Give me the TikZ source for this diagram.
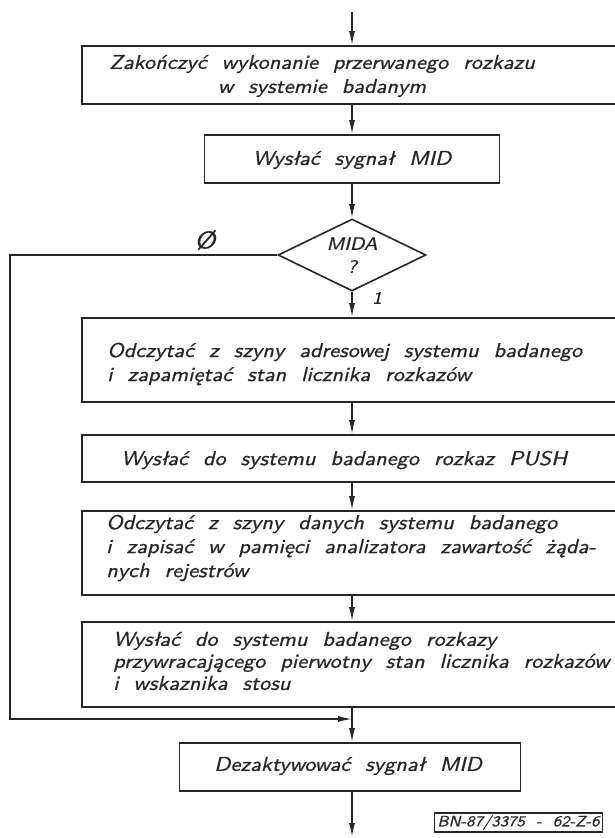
\documentclass[tikz,border=0pt]{standalone}
\usepackage{fontspec}
\usepackage{tikz}
\usetikzlibrary{arrows.meta, shapes.geometric}
% technical lettering: stretched oblique sans with wide word gaps
\newfontfamily\pismo{lmsans10-oblique.otf}[FakeStretch=1.12, WordSpace=2, FakeBold=0.8]
\definecolor{tusz}{gray}{0.15}

\tikzset{
  blok/.style={draw=tusz, line width=1.7pt, rectangle, inner sep=0pt},
  pytanie/.style={draw=tusz, line width=1.6pt, diamond, aspect=2, inner sep=0pt,
    minimum width=148pt, minimum height=72pt, align=center, text=tusz,
    font=\pismo\fontsize{18}{23}\selectfont},
  napis/.style={inner sep=0pt, text=tusz, font=\pismo\fontsize{20}{24}\selectfont},
  strzalka/.style={draw=tusz, line width=1.5pt, -{Latex[length=14pt,width=6pt]}}
}

\begin{document}
\begin{tikzpicture}[x=1pt, y=-1pt]
	\useasboundingbox (0,0) rectangle (615,838);
	\clip (0,0) rectangle (615,838);
	\fill[white] (0,0) rectangle (615,838);

	% boxes of the flow
	\node[blok, minimum width=540pt, minimum height=58pt] (b1) at (352,75) {};
	\node[blok, minimum width=295pt, minimum height=48pt] (b2) at (352,159) {};
	\node[pytanie] (dec) at (352,255) {MIDA\\?};
	\node[blok, minimum width=540pt, minimum height=84pt] (b3) at (352,360) {};
	\node[blok, minimum width=540pt, minimum height=47pt] (b4) at (352,458.5) {};
	\node[blok, minimum width=540pt, minimum height=84pt] (b5) at (352,553) {};
	\node[blok, minimum width=540pt, minimum height=85pt] (b6) at (352,664.5) {};
	\node[blok, minimum width=341pt, minimum height=48pt] (b7) at (350,767) {};

	% texts
	\node[napis, align=center] (t1) at (322,76) {Zakończyć wykonanie przerwanego rozkazu\\w systemie badanym};
	\node[napis] (t2) at (352,160) {Wysłać sygnał MID};
	\node[napis, align=left, right] (t3) at (107,364) {Odczytać z szyny adresowej systemu badanego\\i zapamiętać stan licznika rozkazów};
	\node[napis, right] (t4) at (121,460) {Wysłać do systemu badanego rozkaz PUSH};
	\node[napis, align=left, right] (t5) at (106,548) {Odczytać z szyny danych systemu badanego\\i zapisać w pamięci analizatora zawartość żąda-\\nych rejestrów};
	\node[napis, align=left, right, font=\pismo\fontsize{20}{22}\selectfont] (t6) at (113,661) {Wysłać do systemu badanego rozkazy\\przywracającego pierwotny stan licznika rozkazów\\i wskaznika stosu};
	\node[napis] (t7) at (348,766) {Dezaktywować sygnał MID};

	% branch labels
	\node[napis, font=\pismo\fontsize{24}{24}\selectfont] (zero) at (205,240) {Ø};
	\node[napis, font=\pismo\fontsize{17}{17}\selectfont] (jeden) at (377,298) {1};

	% drawing number
	\node[draw=tusz, line width=1.1pt, inner xsep=3pt, inner ysep=2pt, text=tusz,
	  font=\pismo\fontsize{15}{15}\selectfont] (nr) at (518.5,822.5) {BN-87/3375 - 62-Z-6};

	% connectors
	\coordinate (wej) at (352,12);
	\coordinate (lp) at (10,719);
	\coordinate (zbieg) at (352,719);
	\coordinate (wyj) at (352,837);
	\draw[strzalka] (wej) -- (b1.north);
	\draw[strzalka] (b1.south) -- (b2.north);
	\draw[strzalka] (b2.south) -- (dec.north);
	\draw[strzalka] (dec.south) -- (b3.north);
	\draw[strzalka] (b3.south) -- (b4.north);
	\draw[strzalka] (b4.south) -- (b5.north);
	\draw[strzalka] (b5.south) -- (b6.north);
	\draw[strzalka] (b6.south) -- (b7.north -| zbieg);
	\draw[strzalka] (dec.west) -| (lp) -- (zbieg);
	\draw[strzalka] (b7.south -| zbieg) -- (wyj);
\end{tikzpicture}
\end{document}
